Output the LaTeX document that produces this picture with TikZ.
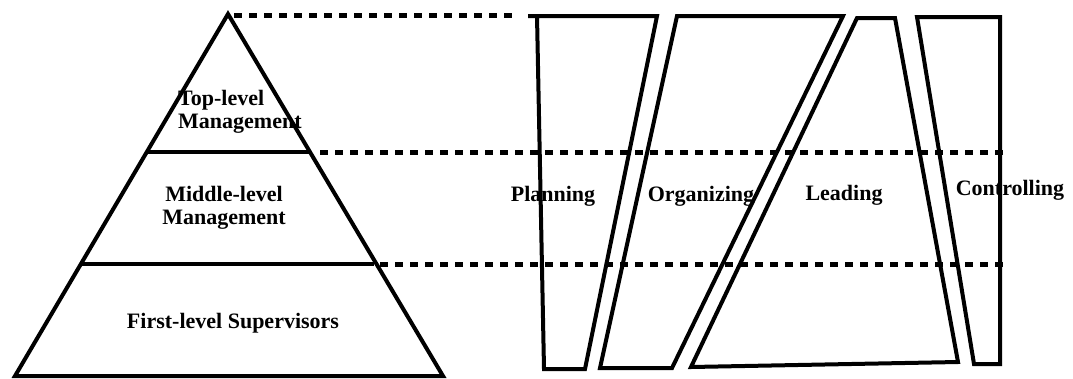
\documentclass[tikz,border=0pt]{standalone}
\usepackage{fontspec}
\setmainfont{Liberation Serif}
\usepackage{tikz}
\usetikzlibrary{calc}

\tikzset{
  lbl/.style={font=\bfseries\fontsize{22}{23}\selectfont, inner sep=0pt},
  guide/.style={line width=5pt, dash pattern=on 8pt off 7pt},
  outline/.style={line width=4pt, line join=miter}
}

\begin{document}
\begin{tikzpicture}[x=1pt,y=-1pt]
\useasboundingbox (0,0) rectangle (1073,378);

% labels
\node[lbl, align=left, anchor=west] (top) at (178,112) {Top-level\\Management};
\node[lbl, align=center] (mid) at (224,208) {Middle-level\\Management};
\node[lbl] (first) at (233,323) {First-level Supervisors};

\node[lbl] (plan) at (553,196) {Planning};
\node[lbl] (org) at (701,196) {Organizing};
\node[lbl] (lead) at (844,195) {Leading};
\node[lbl] (ctrl) at (1010,190) {Controlling};

% pyramid
\coordinate (apex) at (228,14);
\coordinate (tl) at (147,152);
\coordinate (tr) at (309,152);
\coordinate (ml) at (80,264);
\coordinate (mr) at (374,264);
\draw[outline] (15,376) -- (apex) -- (443,376) -- cycle;
\draw[outline] (tl) -- (tr);
\draw[outline] (ml) -- (mr);

% functions
\draw[outline] (528,16) -- (657,16) -- (585,369) -- (544,369) -- (537,16);
\draw[outline] (677,16) -- (843,16) -- (672,368) -- (600,368) -- cycle;
\draw[outline] (857,18) -- (895,18) -- (958,362) -- (691,367) -- cycle;
\draw[outline] (917,17) -- (1000,17) -- (1000,364) -- (974,364) -- cycle;

% level guides
\draw[guide] ($(apex)+(6,1)$) -- (518,15);
\draw[guide] ($(tr)+(11,0)$) -- (1005,152);
\draw[guide] ($(mr)+(6,0)$) -- (1005,264);
\end{tikzpicture}
\end{document}
